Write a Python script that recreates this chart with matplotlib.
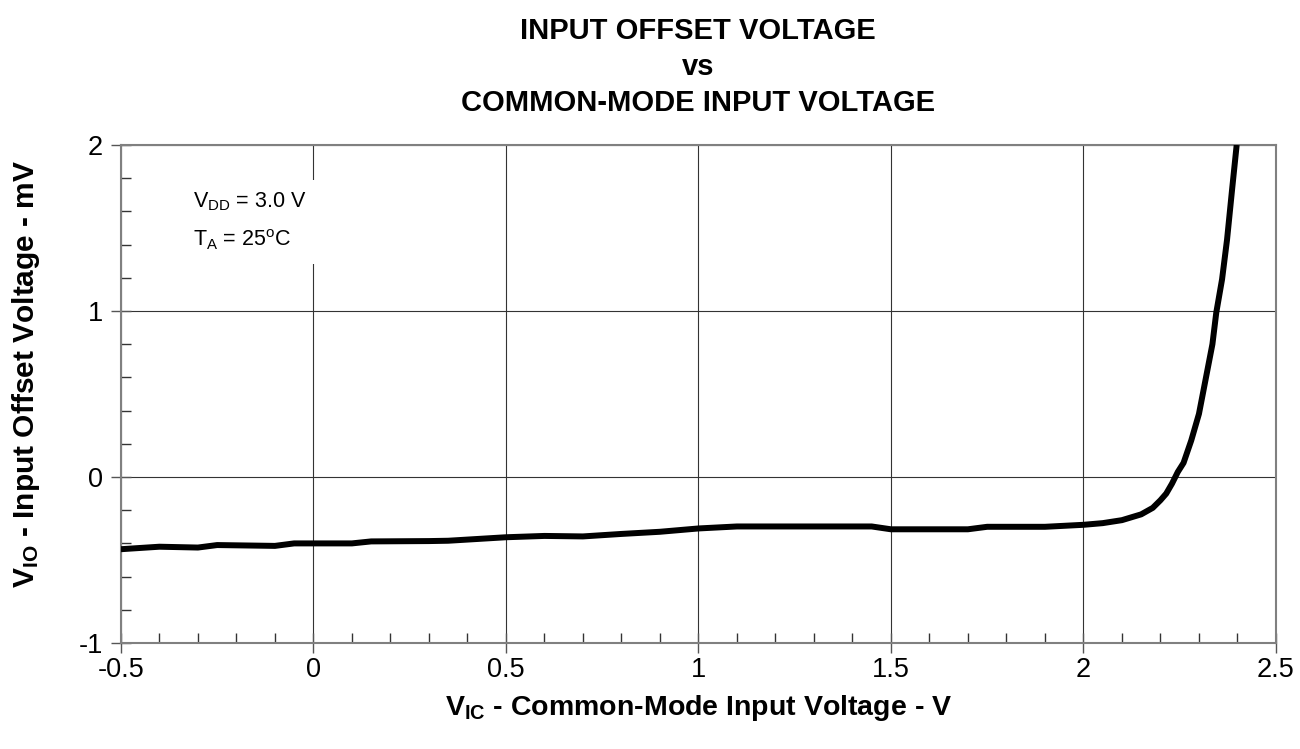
import numpy as np
import matplotlib
matplotlib.use('Agg')
import matplotlib.pyplot as plt
from matplotlib.patches import Rectangle
from matplotlib.ticker import MultipleLocator

plt.rcParams['font.family'] = ['Liberation Sans', 'DejaVu Sans']
plt.rcParams['mathtext.fontset'] = 'custom'
plt.rcParams['mathtext.rm'] = 'Liberation Sans'
plt.rcParams['mathtext.bf'] = 'Liberation Sans:bold'

# V_IC (V) and V_IO (mV)
vic = [-0.5, -0.4, -0.3, -0.25, -0.1, -0.05, 0.1, 0.15, 0.3, 0.35,
       0.5, 0.6, 0.7, 0.8, 0.9, 1.0, 1.1, 1.45, 1.5, 1.7,
       1.75, 1.9, 2.0, 2.05, 2.1, 2.15, 2.18, 2.2, 2.215, 2.23,
       2.245, 2.26, 2.28, 2.3, 2.31, 2.32, 2.335, 2.345, 2.36, 2.373,
       2.386, 2.398]
vio = [-0.435, -0.42, -0.425, -0.41, -0.415, -0.40, -0.40, -0.388, -0.386, -0.384,
       -0.363, -0.355, -0.358, -0.343, -0.33, -0.31, -0.298, -0.298, -0.315, -0.315,
       -0.30, -0.30, -0.288, -0.278, -0.26, -0.225, -0.186, -0.14, -0.10, -0.04,
       0.03, 0.085, 0.22, 0.38, 0.5, 0.62, 0.8, 0.99, 1.19, 1.43,
       1.73, 2.0]

xticks = [-0.5, 0, 0.5, 1, 1.5, 2, 2.5]
xticklabels = ['-0.5', '0', '0.5', '1', '1.5', '2', '2.5']
yticks = [-1, 0, 1, 2]
yticklabels = ['-1', '0', '1', '2']

fig = plt.figure(figsize=(13, 7.49), dpi=100)
ax = fig.add_axes([0.093, 0.1415, 0.8885, 0.665])

ax.plot(vic, vio, color='black', lw=4.3, solid_capstyle='butt', zorder=3)

ax.set_xlim(-0.5, 2.5)
ax.set_ylim(-1, 2)
ax.set_xticks(xticks)
ax.set_xticklabels(xticklabels)
ax.set_yticks(yticks)
ax.set_yticklabels(yticklabels)
ax.xaxis.set_minor_locator(MultipleLocator(0.1))
ax.yaxis.set_minor_locator(MultipleLocator(0.2))
ax.tick_params(which='major', direction='inout', length=14, width=1, color='#555555',
               labelsize=19.5, pad=6)
ax.tick_params(which='minor', direction='in', length=7, width=1, color='#333333')
ax.tick_params(axis='x', which='major', pad=3)
ax.grid(True, which='major', color='#333333', lw=0.8)
for s in ax.spines.values():
    s.set_color('#808080')
    s.set_linewidth(1.5)

ax.set_xlabel(r'$\mathbf{V_{IC}}$ - Common-Mode Input Voltage - V',
              fontsize=20.5, fontweight='bold', labelpad=7)
ax.set_ylabel(r'$\mathbf{V_{IO}}$ - Input Offset Voltage - mV',
              fontsize=21.5, fontweight='bold')
ax.yaxis.set_label_coords(-0.068, 0.54)

fig.text(0.537, 0.958, 'INPUT OFFSET VOLTAGE', ha='center', va='center',
         fontsize=21, fontweight='bold')
fig.text(0.537, 0.910, 'vs', ha='center', va='center', fontsize=21, fontweight='bold')
fig.text(0.537, 0.862, 'COMMON-MODE INPUT VOLTAGE', ha='center', va='center',
         fontsize=21, fontweight='bold')

# white box behind the conditions, hides the grid line there
ax.add_patch(Rectangle((-0.36, 1.28), 0.56, 0.51, facecolor='white',
                       edgecolor='none', zorder=2))
ax.text(-0.313, 1.626, r'V$_\mathrm{DD}$ = 3.0 V', fontsize=15.5,
        ha='left', va='baseline', zorder=4)
ax.text(-0.313, 1.39, r'T$_\mathrm{A}$ = 25$^\mathrm{o}$C', fontsize=15.5,
        ha='left', va='baseline', zorder=4)

fig.savefig('out.png', dpi=100)
